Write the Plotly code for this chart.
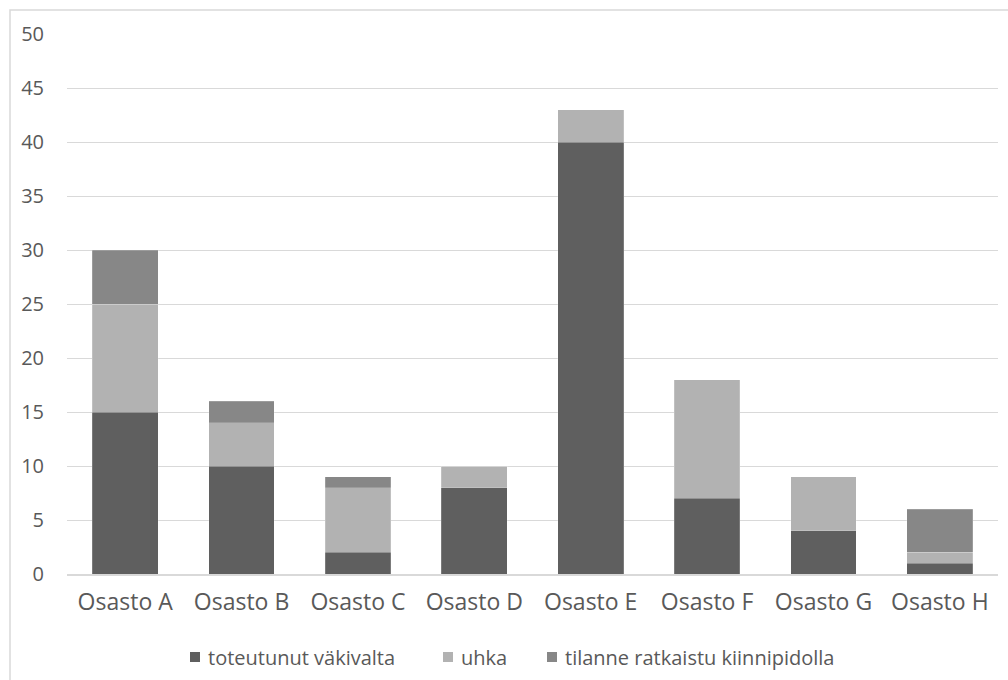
import plotly.graph_objects as go

categories = ["Osasto A", "Osasto B", "Osasto C", "Osasto D",
              "Osasto E", "Osasto F", "Osasto G", "Osasto H"]
toteutunut = [15, 10, 2, 8, 40, 7, 4, 1]
uhka = [10, 4, 6, 2, 3, 11, 5, 1]
kiinnipito = [5, 2, 1, 0, 0, 0, 0, 4]
y_ticks = [0, 5, 10, 15, 20, 25, 30, 35, 40, 45, 50]

W, H = 1008, 680
ML, MR, MT, MB = 67, 10, 34, 106
pw, ph = W - ML - MR, H - MT - MB

series = [
    ("toteutunut väkivalta", toteutunut, "#5f5f5f"),
    ("uhka", uhka, "#b2b2b2"),
    ("tilanne ratkaistu kiinnipidolla", kiinnipito, "#878787"),
]

fig = go.Figure()
for name, vals, col in series:
    fig.add_trace(go.Bar(
        x=categories, y=vals, name=name, showlegend=False,
        marker=dict(color=col, line=dict(color="rgba(255,255,255,0.3)", width=0.6)),
    ))

# pixel -> paper coordinate helpers
def px_x(p):
    return (p - ML) / pw

def px_y(p):
    return 1 - (p - MT) / ph

# outer chart border
fig.add_shape(type="rect", xref="paper", yref="paper",
              x0=px_x(10), x1=px_x(W + 5), y0=px_y(H + 5), y1=px_y(10),
              line=dict(color="#d9d9d9", width=1.5), fillcolor="rgba(0,0,0,0)",
              layer="below")

# legend row below the axis: square swatch followed by label
legend_left = [190, 443, 547]
legend_y = 657
for (name, _, col), left in zip(series, legend_left):
    fig.add_shape(type="rect", xref="paper", yref="paper",
                  x0=px_x(left), x1=px_x(left + 10),
                  y0=px_y(legend_y + 5), y1=px_y(legend_y - 5),
                  line=dict(width=0), fillcolor=col)
    fig.add_annotation(x=px_x(left + 16), y=px_y(legend_y), xref="paper", yref="paper",
                       text=name, showarrow=False, xanchor="left", yanchor="middle",
                       font=dict(size=20, family="Open Sans, sans-serif", color="#595959"))

fig.update_layout(
    width=W, height=H,
    barmode="stack", bargap=0.435,
    plot_bgcolor="white", paper_bgcolor="white",
    margin=dict(l=ML, r=MR, t=MT, b=MB, autoexpand=False),
    font=dict(family="Open Sans, Noto Sans, sans-serif", color="#595959", size=20),
    showlegend=False,
    xaxis=dict(showgrid=False, showline=True, linecolor="#d9d9d9", linewidth=1.5,
               ticks="", tickfont=dict(size=23), ticklabelstandoff=7, automargin=False),
    yaxis=dict(range=[0, 50], tickvals=y_ticks, showgrid=True, gridcolor="#d9d9d9",
               gridwidth=1.2, zeroline=False, ticks="", tickfont=dict(size=20),
               ticklabelstandoff=22, automargin=False),
)

fig.write_html("out.html")
